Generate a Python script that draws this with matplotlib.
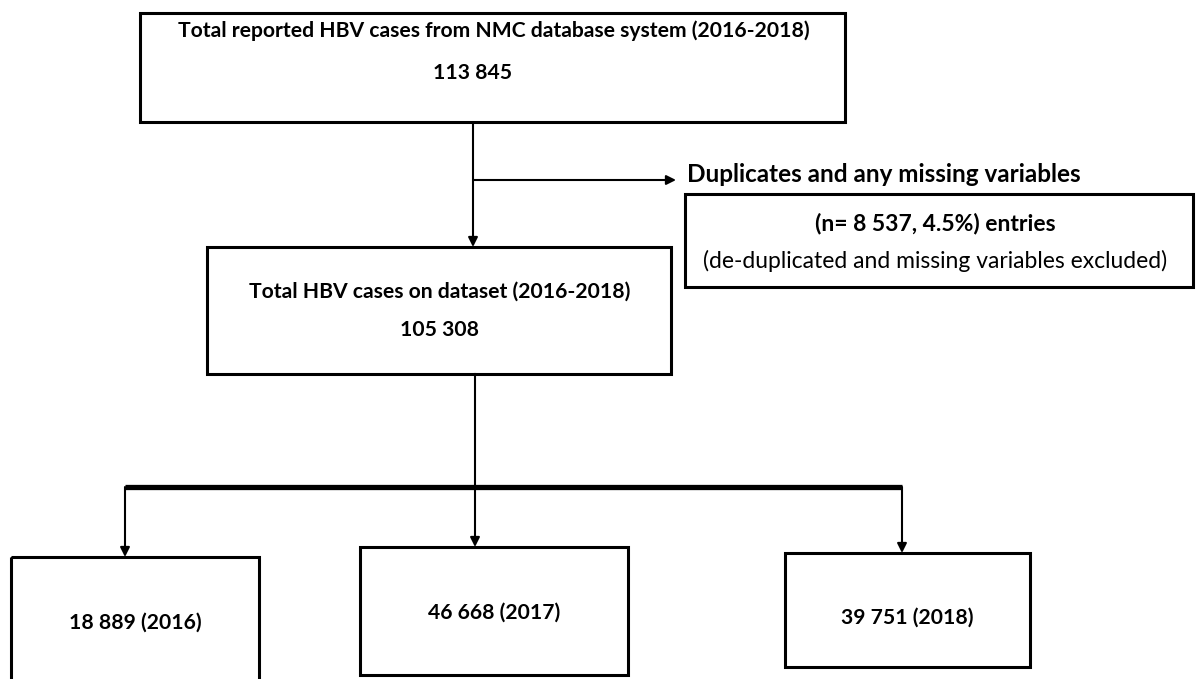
import matplotlib.pyplot as plt
from matplotlib.patches import Rectangle

# flowchart numbers
total_reported = "113 845"
total_dataset = "105 308"
excluded_n = "8 537"
excluded_pct = "4.5%"
years = ["2016", "2017", "2018"]
year_counts = ["18 889", "46 668", "39 751"]

plt.rcParams['font.family'] = ['Lato', 'DejaVu Sans']

fig = plt.figure(figsize=(11.97, 6.79), dpi=100)
ax = fig.add_axes([0, 0, 1, 1])
ax.set_xlim(0, 1197)
ax.set_ylim(679, 0)
ax.axis('off')

def box(x0, y0, x1, y1):
    ax.add_patch(Rectangle((x0, y0), x1 - x0, y1 - y0, fill=False,
                           edgecolor='black', linewidth=2.2, zorder=2))

def arrow(x0, y0, x1, y1):
    ax.annotate('', xy=(x1, y1), xytext=(x0, y0),
                arrowprops=dict(arrowstyle='-|>', color='black', lw=1.5,
                                mutation_scale=14, shrinkA=0, shrinkB=0))

# top box
box(140, 13, 845, 122)
ax.text(494, 31, "Total reported HBV cases from NMC database system (2016-2018)",
        ha='center', va='center', fontsize=15.2, fontweight='bold')
ax.text(473, 73, total_reported, ha='center', va='center', fontsize=15.2, fontweight='bold')

# down to dataset box, with side branch
arrow(473, 122, 473, 247)
arrow(473, 180, 676, 180)
ax.text(687, 175, "Duplicates and any missing variables", ha='left', va='center',
        fontsize=17.5, fontweight='bold')

# excluded box
box(685, 194, 1193, 287)
ax.text(935, 223, "(n= %s, %s) entries" % (excluded_n, excluded_pct),
        ha='center', va='center', fontsize=16.5, fontweight='bold')
ax.text(935, 261, "(de-duplicated and missing variables excluded)",
        ha='center', va='center', fontsize=16.5)

# dataset box
box(207, 247, 671, 374)
ax.text(440, 292, "Total HBV cases on dataset (2016-2018)", ha='center', va='center',
        fontsize=15.2, fontweight='bold')
ax.text(440, 330, total_dataset, ha='center', va='center', fontsize=15.2, fontweight='bold')

# split bar to the years
ax.plot([475, 475], [374, 487], color='black', lw=1.5)
ax.plot([125, 902], [487, 487], color='black', lw=3.8, solid_capstyle='butt')

year_boxes = [(11, 557, 259, 690), (360, 547, 628, 675), (785, 553, 1030, 667)]
arrow_x = [125, 475, 902]
text_y = [623, 613, 618]
for (x0, y0, x1, y1), a_x, t_y, cnt, yr in zip(year_boxes, arrow_x, text_y, year_counts, years):
    arrow(a_x, 487, a_x, y0)
    box(x0, y0, x1, y1)
    ax.text((x0 + x1) / 2, t_y, "%s (%s)" % (cnt, yr), ha='center', va='center',
            fontsize=15.2, fontweight='bold')

fig.savefig('out.png', dpi=100)
